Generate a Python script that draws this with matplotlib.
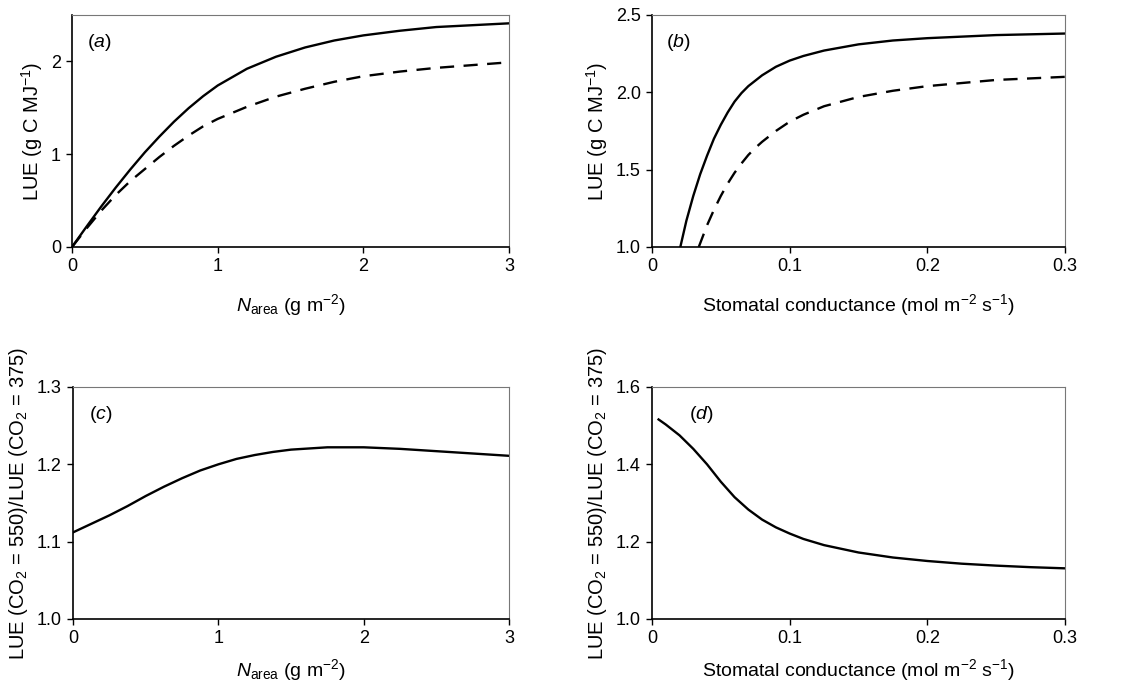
import matplotlib
matplotlib.use("Agg")
import matplotlib.pyplot as plt

plt.rcParams['font.family'] = ['Liberation Sans', 'DejaVu Sans']
plt.rcParams['mathtext.fontset'] = 'custom'
plt.rcParams['mathtext.rm'] = 'Liberation Sans'
plt.rcParams['mathtext.it'] = 'Liberation Sans:italic'

# panel a: LUE vs N_area (solid and dashed)
n_a = [0, 0.1, 0.2, 0.3, 0.4, 0.5, 0.6, 0.7, 0.8, 0.9, 1.0, 1.2, 1.4, 1.6, 1.8, 2.0, 2.25, 2.5, 2.75, 3.0]
lue_a_solid = [0, 0.22, 0.435, 0.64, 0.835, 1.02, 1.19, 1.35, 1.495, 1.625, 1.74,
               1.92, 2.05, 2.15, 2.225, 2.28, 2.33, 2.37, 2.39, 2.41]
lue_a_dash = [0, 0.2, 0.39, 0.56, 0.71, 0.84, 0.97, 1.09, 1.2, 1.3, 1.38,
              1.51, 1.62, 1.705, 1.78, 1.84, 1.89, 1.93, 1.96, 1.99]

# panel b: LUE vs stomatal conductance
gs_b_solid = [0.0206, 0.025, 0.03, 0.035, 0.04, 0.045, 0.05, 0.055, 0.06, 0.065, 0.07,
              0.08, 0.09, 0.1, 0.11, 0.125, 0.15, 0.175, 0.2, 0.25, 0.3]
lue_b_solid = [1.0, 1.17, 1.33, 1.47, 1.59, 1.70, 1.79, 1.87, 1.94, 1.995, 2.04,
               2.11, 2.165, 2.205, 2.235, 2.27, 2.31, 2.335, 2.35, 2.37, 2.38]
gs_b_dash = [0.034, 0.04, 0.045, 0.05, 0.055, 0.06, 0.065, 0.07, 0.075, 0.08, 0.09,
             0.1, 0.11, 0.125, 0.15, 0.175, 0.2, 0.25, 0.3]
lue_b_dash = [1.0, 1.14, 1.24, 1.33, 1.41, 1.48, 1.54, 1.595, 1.64, 1.68, 1.75,
              1.81, 1.855, 1.91, 1.97, 2.01, 2.04, 2.08, 2.10]

# panel c: LUE ratio vs N_area
n_c = [0, 0.125, 0.25, 0.375, 0.5, 0.625, 0.75, 0.875, 1.0, 1.125, 1.25, 1.375, 1.5,
       1.75, 2.0, 2.25, 2.5, 2.75, 3.0]
ratio_c = [1.112, 1.123, 1.134, 1.146, 1.159, 1.171, 1.182, 1.192, 1.200, 1.207, 1.212, 1.216, 1.219,
           1.222, 1.222, 1.220, 1.217, 1.214, 1.211]

# panel d: LUE ratio vs stomatal conductance
gs_d = [0.0048, 0.01, 0.02, 0.03, 0.04, 0.05, 0.06, 0.07, 0.08, 0.09, 0.1, 0.11,
        0.125, 0.15, 0.175, 0.2, 0.225, 0.25, 0.275, 0.3]
ratio_d = [1.516, 1.503, 1.475, 1.44, 1.40, 1.355, 1.315, 1.283, 1.257, 1.237, 1.221, 1.207,
           1.191, 1.172, 1.159, 1.150, 1.143, 1.138, 1.134, 1.131]

lue_label = 'LUE (g C MJ$^{-1}$)'
ratio_label = 'LUE (CO$_2$ = 550)/LUE (CO$_2$ = 375)'
narea_label = '$N_{\\rm area}$ (g m$^{-2}$)'
gs_label = 'Stomatal conductance (mol m$^{-2}$ s$^{-1}$)'

fig = plt.figure(figsize=(11.27, 6.87), dpi=100)
ax_a = fig.add_axes([0.0639, 0.6405, 0.3878, 0.3377])
ax_b = fig.add_axes([0.5785, 0.6405, 0.3665, 0.3377])
ax_c = fig.add_axes([0.0648, 0.099, 0.3869, 0.3377])
ax_d = fig.add_axes([0.5785, 0.099, 0.3665, 0.3377])

lw = 1.7
ax_a.plot(n_a, lue_a_solid, color='black', lw=lw)
ax_a.plot(n_a, lue_a_dash, color='black', lw=lw, dashes=(6, 4))
ax_a.set_xlim(0, 3)
ax_a.set_ylim(0, 2.5)
ax_a.set_xticks([0, 1, 2, 3])
ax_a.set_yticks([0, 1, 2])
ax_a.set_ylabel(lue_label)
ax_a.set_xlabel(narea_label)

ax_b.plot(gs_b_solid, lue_b_solid, color='black', lw=lw)
ax_b.plot(gs_b_dash, lue_b_dash, color='black', lw=lw, dashes=(6, 4))
ax_b.set_xlim(0, 0.3)
ax_b.set_ylim(1.0, 2.5)
ax_b.set_xticks([0, 0.1, 0.2, 0.3])
ax_b.set_xticklabels(['0', '0.1', '0.2', '0.3'])
ax_b.set_yticks([1.0, 1.5, 2.0, 2.5])
ax_b.set_yticklabels(['1.0', '1.5', '2.0', '2.5'])
ax_b.set_ylabel(lue_label)
ax_b.set_xlabel(gs_label)

ax_c.plot(n_c, ratio_c, color='black', lw=lw)
ax_c.set_xlim(0, 3)
ax_c.set_ylim(1.0, 1.3)
ax_c.set_xticks([0, 1, 2, 3])
ax_c.set_yticks([1.0, 1.1, 1.2, 1.3])
ax_c.set_yticklabels(['1.0', '1.1', '1.2', '1.3'])
ax_c.set_ylabel(ratio_label)
ax_c.set_xlabel(narea_label)

ax_d.plot(gs_d, ratio_d, color='black', lw=lw)
ax_d.set_xlim(0, 0.3)
ax_d.set_ylim(1.0, 1.6)
ax_d.set_xticks([0, 0.1, 0.2, 0.3])
ax_d.set_xticklabels(['0', '0.1', '0.2', '0.3'])
ax_d.set_yticks([1.0, 1.2, 1.4, 1.6])
ax_d.set_yticklabels(['1.0', '1.2', '1.4', '1.6'])
ax_d.set_ylabel(ratio_label)
ax_d.set_xlabel(gs_label)

panel_pos = [(ax_a, 'a', 0.034), (ax_b, 'b', 0.034), (ax_c, 'c', 0.037), (ax_d, 'd', 0.09)]
for ax, letter, px in panel_pos:
    ax.text(px, 0.88, '($\\it{' + letter + '}$)', transform=ax.transAxes,
            fontsize=14, va='center', ha='left')
    ax.tick_params(direction='out', length=4, width=1, labelsize=13, pad=4)
    ax.xaxis.label.set_size(14)
    ax.yaxis.label.set_size(14.5)
    ax.xaxis.labelpad = 12
    for side in ['top', 'right']:
        ax.spines[side].set_color('#777777')
        ax.spines[side].set_linewidth(0.8)
    for side in ['left', 'bottom']:
        ax.spines[side].set_linewidth(1.2)

ax_c.yaxis.labelpad = 5
ax_d.yaxis.labelpad = 5
ax_c.xaxis.labelpad = 7
ax_d.xaxis.labelpad = 7

fig.savefig('out.png', dpi=100)
